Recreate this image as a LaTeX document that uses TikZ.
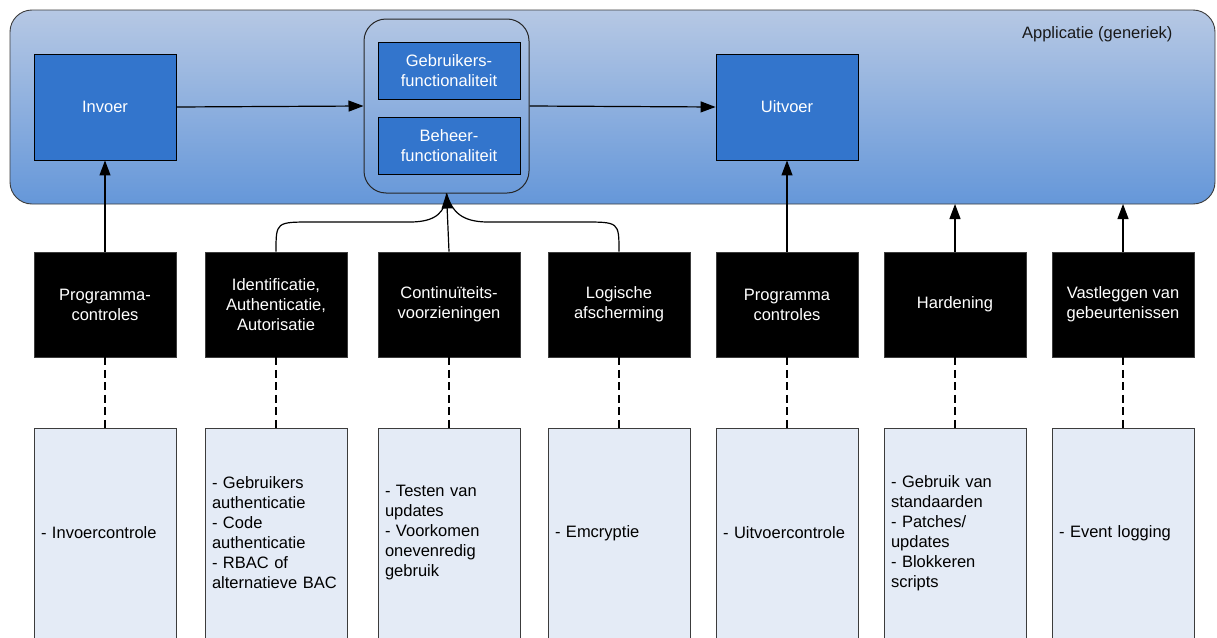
\documentclass[tikz,border=0pt]{standalone}
\usepackage{fontspec}
\setmainfont{Liberation Sans}
\usetikzlibrary{arrows.meta}
\definecolor{appTop}{RGB}{182,200,228}
\definecolor{appBot}{RGB}{101,151,217}
\definecolor{funcBlue}{RGB}{51,117,204}
\definecolor{noteFill}{RGB}{228,235,246}
\definecolor{rimGray}{RGB}{60,60,60}
\begin{document}
\begin{tikzpicture}[x=1pt,y=-1pt,
  every node/.style={font=\fontsize{16.5}{20}\selectfont},
  bluebox/.style={draw=black,line width=0.9pt,fill=funcBlue,text=white,align=center,inner sep=0pt},
  ctrlbox/.style={draw=rimGray,line width=0.8pt,fill=black,text=white,align=center,
    minimum width=142pt,minimum height=105pt,inner sep=0pt},
  notebox/.style={draw=rimGray,line width=0.8pt,fill=noteFill,text=black,align=left,
    text width=128pt,inner xsep=7pt,minimum height=210pt},
  link/.style={line width=1.2pt,-{Triangle[length=15pt,width=11pt]}},
  tie/.style={line width=1.2pt},
  dotline/.style={line width=2pt,dash pattern=on 8pt off 4.5pt}]
\useasboundingbox (0,0) rectangle (1217,637);
\clip (0,0) rectangle (1217,637);

% application frame with vertical gradient
\shadedraw[top color=appTop,bottom color=appBot,draw=rimGray,line width=0.9pt,rounded corners=22pt]
  (10,10) rectangle (1215,204);
\node[anchor=east,text=black!90] (apptitle) at (1176,34) {Applicatie (generiek)};
\coordinate (appbase6) at (955,204);
\coordinate (appbase7) at (1123,204);

% functional blocks
\node[bluebox,minimum width=142pt,minimum height=106pt] (inv) at (105,107) {Invoer};
\node[draw=black!85,line width=1pt,rounded corners=22pt,minimum width=165pt,minimum height=174pt] (mid) at (446.5,106) {};
\node[bluebox,minimum width=142pt,minimum height=57pt] (guf) at (449,70.5) {Gebruikers-\\functionaliteit};
\node[bluebox,minimum width=142pt,minimum height=57pt] (bhf) at (449,145.5) {Beheer-\\functionaliteit};
\node[bluebox,minimum width=142pt,minimum height=106pt] (uit) at (787,107) {Uitvoer};

\draw[link] (inv.east) -- (mid.west);
\draw[link] (mid.east) -- (uit.west);

% control measures
\node[ctrlbox] (c1) at (105,304.5) {Programma-\\controles};
\node[ctrlbox] (c2) at (276,304.5) {Identificatie,\\Authenticatie,\\Autorisatie};
\node[ctrlbox] (c3) at (449,304.5) {Continuïteits-\\voorzieningen};
\node[ctrlbox] (c4) at (619,304.5) {Logische\\afscherming};
\node[ctrlbox] (c5) at (787,304.5) {Programma\\controles};
\node[ctrlbox] (c6) at (955,304.5) {Hardening};
\node[ctrlbox] (c7) at (1123,304.5) {Vastleggen van\\gebeurtenissen};

% details per measure
\node[notebox] (n1) at (105,533) {- Invoercontrole};
\node[notebox] (n2) at (276,533) {- Gebruikers\\authenticatie\\- Code\\authenticatie\\- RBAC of\\alternatieve BAC};
\node[notebox] (n3) at (449,533) {- Testen van\\updates\\- Voorkomen\\onevenredig\\gebruik};
\node[notebox] (n4) at (619,533) {- Emcryptie};
\node[notebox] (n5) at (787,533) {- Uitvoercontrole};
\node[notebox] (n6) at (955,533) {- Gebruik van\\standaarden\\- Patches/\\updates\\- Blokkeren\\scripts};
\node[notebox] (n7) at (1123,533) {- Event logging};

\foreach \i in {1,...,7}{
  \draw[dotline] (c\i.south) -- (n\i.north);
}

% connectors into the application
\draw[link] (c1.north) -- (inv.south);
\draw[link] (c5.north) -- (uit.south);
\draw[link] (c6.north) -- (appbase6);
\draw[link] (c7.north) -- (appbase7);
\draw[tie] (c2.north) .. controls (276,222) .. (312,222) -- (410,222)
  .. controls (436,222) and (446,212) .. (mid.south);
\draw[tie] (c4.north) .. controls (619,222) .. (583,222) -- (488,222)
  .. controls (462,222) and (452,212) .. (mid.south);
\draw[link] (c3.north) -- (mid.south);
\end{tikzpicture}
\end{document}
